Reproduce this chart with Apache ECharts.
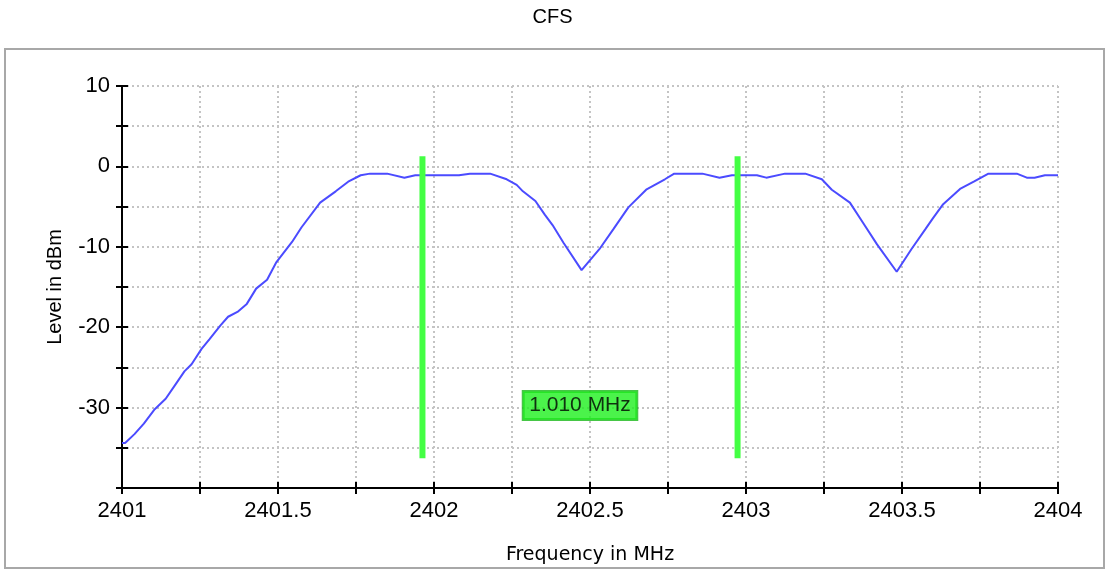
<!DOCTYPE html>
<html>
<head>
<meta charset="utf-8">
<title>CFS</title>
<script src="https://cdn.jsdelivr.net/npm/echarts@6/dist/echarts.min.js"></script>
<style>
  html, body { margin: 0; padding: 0; background: #fff; }
  #chart { width: 1105px; height: 570px; }
</style>
</head>
<body>
<div id="chart"></div>
<script>
// measured trace (MHz / dBm)
const freqs = [
  2401.00, 2401.01, 2401.04, 2401.07, 2401.105, 2401.14, 2401.17, 2401.20, 2401.223, 2401.255,
  2401.28, 2401.315, 2401.34, 2401.37, 2401.40, 2401.43, 2401.465, 2401.495, 2401.545, 2401.575,
  2401.635, 2401.685, 2401.725, 2401.765, 2401.795, 2401.85, 2401.905, 2401.94, 2402.08, 2402.115,
  2402.18, 2402.233, 2402.265, 2402.285, 2402.325, 2402.355, 2402.38, 2402.415, 2402.473, 2402.53,
  2402.575, 2402.623, 2402.68, 2402.74, 2402.77, 2402.86, 2402.915, 2402.955, 2403.035, 2403.065,
  2403.125, 2403.19, 2403.243, 2403.275, 2403.333, 2403.375, 2403.42, 2403.483, 2403.53, 2403.575,
  2403.60, 2403.632, 2403.686, 2403.73, 2403.777, 2403.868, 2403.90, 2403.925, 2403.958, 2404.00
]
const levels = [
  -34.4, -34.4, -33.3, -32.0, -30.2, -28.9, -27.2, -25.5, -24.6, -22.7,
  -21.5, -19.8, -18.7, -18.1, -17.1, -15.2, -14.1, -11.9, -9.4, -7.6,
  -4.5, -3.1, -1.9, -1.1, -0.9, -0.9, -1.4, -1.1, -1.1, -0.9,
  -0.9, -1.6, -2.3, -3.1, -4.3, -6.0, -7.3, -9.5, -12.9, -10.3,
  -7.8, -5.1, -2.9, -1.6, -0.9, -0.9, -1.4, -1.1, -1.1, -1.4,
  -0.9, -0.9, -1.6, -2.9, -4.5, -7.0, -9.7, -13.1, -10.3, -7.8,
  -6.4, -4.7, -2.8, -1.9, -0.9, -0.9, -1.4, -1.4, -1.1, -1.1
]

// marker lines and the delta label
const markerFreqs = [2401.963, 2402.973]
const markerRange = [1.25, -36.3]
const deltaLabel = '1.010 MHz'
const deltaPos = [2402.468, -29.75]

const font = 'Liberation Sans, Arial, sans-serif'

const traceData = freqs.map((f, i) => [f, levels[i]])

const markerSeries = markerFreqs.map(f => ({
  type: 'line',
  data: [[f, markerRange[0]], [f, markerRange[1]]],
  showSymbol: false,
  lineStyle: { color: '#44ff44', width: 6 },
  z: 3
}))

const chart = echarts.init(document.getElementById('chart'))

chart.setOption({
  animation: false,
  title: {
    text: 'CFS',
    left: 'center',
    top: 2,
    textStyle: { fontFamily: font, fontSize: 20, fontWeight: 'normal', color: '#000' }
  },
  grid: { left: 122, right: 47, top: 86, bottom: 81 },
  xAxis: [
    {
      type: 'value',
      min: 2401,
      max: 2404,
      interval: 0.25,
      name: 'Frequency in MHz',
      nameLocation: 'middle',
      nameGap: 58,
      nameTextStyle: { fontFamily: 'DejaVu Sans, sans-serif', fontSize: 19, color: '#000' },
      axisLine: { onZero: false, lineStyle: { color: '#000', width: 2 } },
      axisTick: { length: 6, lineStyle: { color: '#000', width: 2 } },
      axisLabel: {
        margin: 12,
        fontFamily: font,
        fontSize: 22,
        color: '#000',
        formatter: v => (Math.abs(v * 2 - Math.round(v * 2)) < 1e-6 ? String(+v.toFixed(1)) : '')
      },
      splitLine: { lineStyle: { color: '#c4c4c4', type: [2, 3], width: 2 } }
    },
    {
      // inner half of the crossing ticks
      type: 'value',
      position: 'bottom',
      min: 2401,
      max: 2404,
      interval: 0.25,
      axisLine: { show: false, onZero: false },
      axisTick: { inside: true, length: 6, lineStyle: { color: '#000', width: 2 } },
      axisLabel: { show: false },
      splitLine: { show: false }
    }
  ],
  yAxis: [
    {
      type: 'value',
      min: -40,
      max: 10,
      interval: 5,
      name: 'Level in dBm',
      nameLocation: 'middle',
      nameGap: 57,
      nameTextStyle: { fontFamily: font, fontSize: 20, color: '#000' },
      axisLine: { show: true, onZero: false, lineStyle: { color: '#000', width: 2 } },
      axisTick: { show: true, length: 6, lineStyle: { color: '#000', width: 2 } },
      axisLabel: {
        margin: 12,
        fontFamily: font,
        fontSize: 22,
        color: '#000',
        formatter: v => (v % 10 === 0 && v !== -40 ? String(v) : '')
      },
      splitLine: { lineStyle: { color: '#c4c4c4', type: [2, 3], width: 2 } }
    },
    {
      type: 'value',
      position: 'left',
      min: -40,
      max: 10,
      interval: 5,
      axisLine: { show: false, onZero: false },
      axisTick: { show: true, inside: true, length: 6, lineStyle: { color: '#000', width: 2 } },
      axisLabel: { show: false },
      splitLine: { show: false }
    }
  ],
  series: [
    {
      type: 'line',
      data: traceData,
      showSymbol: false,
      lineStyle: { color: '#4b4bff', width: 2 },
      z: 2
    },
    ...markerSeries,
    {
      type: 'scatter',
      data: [deltaPos],
      symbolSize: 1,
      itemStyle: { color: 'transparent' },
      label: {
        show: true,
        position: 'inside',
        formatter: deltaLabel,
        fontFamily: font,
        fontSize: 21,
        color: '#000',
        lineHeight: 22,
        backgroundColor: '#1ef01e',
        borderColor: '#18b818',
        borderWidth: 1.5,
        padding: [4, 6, 2, 6]
      },
      z: 5
    }
  ],
  graphic: [
    {
      type: 'rect',
      shape: { x: 5, y: 49, width: 1099, height: 519 },
      style: { fill: 'none', stroke: '#a8a8a8', lineWidth: 2 },
      silent: true,
      z: 10
    }
  ]
})
</script>
</body>
</html>
